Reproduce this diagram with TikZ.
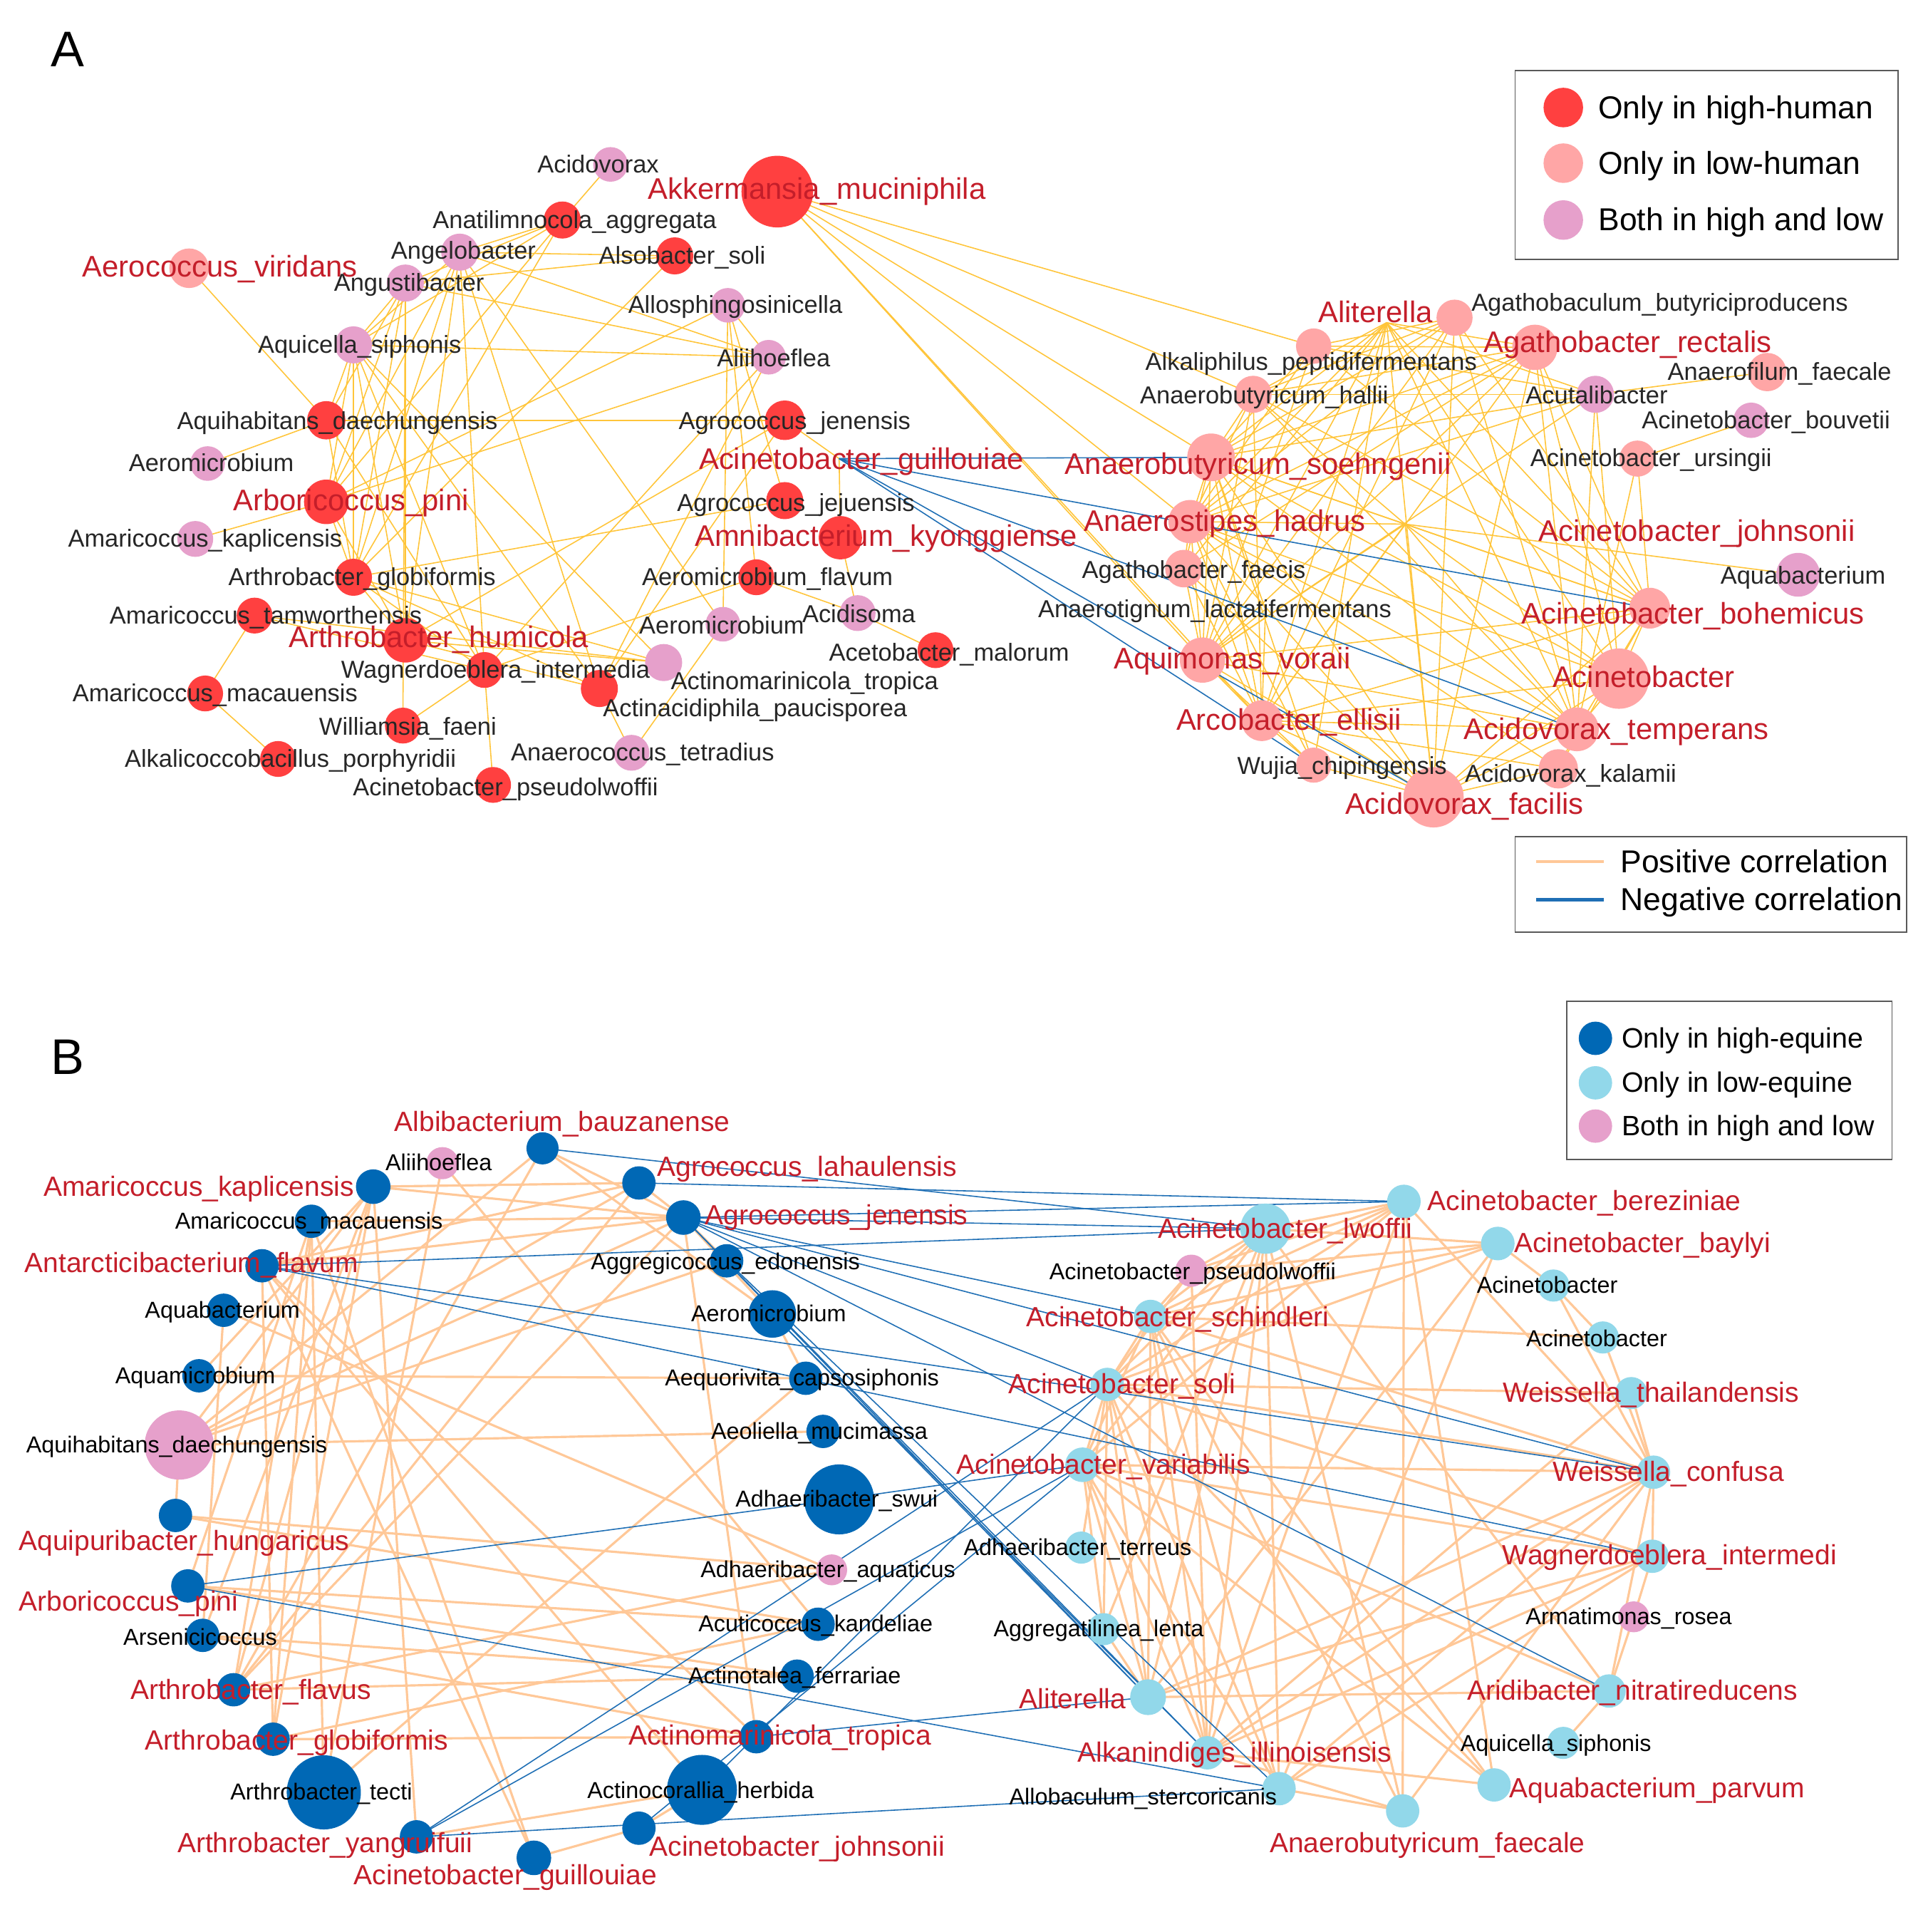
\documentclass[tikz,border=0pt]{standalone}
\usepackage{fontspec}
\setmainfont{Liberation Sans}
\pgfdeclarelayer{bg}
\pgfsetlayers{bg,main}
\definecolor{hhred}{HTML}{FF4040}
\definecolor{lowpink}{HTML}{FFA6A6}
\definecolor{bothpink}{HTML}{E6A0CB}
\definecolor{labred}{HTML}{C41E2A}
\definecolor{labgray}{HTML}{262626}
\definecolor{edgey}{HTML}{FFC53A}
\definecolor{edgeo}{HTML}{FFC898}
\definecolor{edgeb}{HTML}{1F6FB5}
\definecolor{dblue}{HTML}{0068B5}
\definecolor{lblue}{HTML}{92D8EA}
\newcommand{\nd}[5]{\node[circle,inner sep=0pt,minimum size={#5*0.034692cm},fill=#4] (#1) at (#2,#3) {};}
\tikzset{
 labA/.style={font=\fontsize{9.8}{10}\selectfont,text=labgray,inner sep=0pt,text height=6.9pt,text depth=0.4pt},
 labAr/.style={font=\fontsize{11.9}{12}\selectfont,text=labred,inner sep=0pt,text height=8.3pt,text depth=0.5pt},
 labB/.style={font=\fontsize{9.2}{10}\selectfont,text=black,inner sep=0pt,text height=6.4pt,text depth=0.4pt},
 labBr/.style={font=\fontsize{11.1}{12}\selectfont,text=labred,inner sep=0pt,text height=7.8pt,text depth=0.4pt},
 eY/.style={draw=edgey,line width=0.45pt},
 eO/.style={draw=edgeo,line width=0.9pt},
 eBl/.style={draw=edgeb,line width=0.45pt},
 legbox/.style={draw=black!65,line width=0.5pt,fill=white},
 legtxtA/.style={font=\fontsize{12.65}{14}\selectfont,anchor=west,inner sep=0pt,text height=9pt,text depth=0.4pt},
 legtxtB/.style={font=\fontsize{11.2}{13}\selectfont,anchor=west,inner sep=0pt,text height=8pt,text depth=0.4pt},
 panel/.style={font=\fontsize{20}{22}\selectfont,inner sep=0pt}
}
\begin{document}
\begin{tikzpicture}[x=0.017346cm,y=-0.017346cm]
\useasboundingbox (0,0) rectangle (1560,1563);
% ---------------- Panel A nodes ----------------
\nd{a1}{494}{133}{bothpink}{14}
\nd{a2}{629}{155}{hhred}{29}
\nd{a3}{455}{178}{hhred}{15}
\nd{a4}{372}{204}{bothpink}{15}
\nd{a5}{546}{207}{hhred}{15}
\nd{a6}{153}{217}{lowpink}{16}
\nd{a7}{328}{229}{bothpink}{15}
\nd{a8}{589}{247}{bothpink}{14}
\nd{a9}{286}{279}{bothpink}{15}
\nd{a10}{622}{289}{bothpink}{14}
\nd{a11}{264}{340}{hhred}{15.5}
\nd{a12}{635}{340}{hhred}{16}
\nd{a13}{168}{375}{bothpink}{14}
\coordinate (a14) at (679,371);
\nd{a15}{264}{406}{hhred}{18}
\nd{a16}{635}{405}{hhred}{15}
\nd{a17}{158}{436}{bothpink}{14.5}
\nd{a18}{680}{435}{hhred}{17.5}
\nd{a19}{286}{467}{hhred}{15}
\nd{a20}{612}{467}{hhred}{14.5}
\nd{a21}{206}{498}{hhred}{14.5}
\nd{a22}{694}{496}{bothpink}{14.5}
\nd{a23}{585}{505}{bothpink}{14}
\nd{a24}{328}{518}{hhred}{18}
\nd{a25}{757}{526}{hhred}{14.5}
\nd{a26}{392}{542}{hhred}{14.5}
\nd{a27}{537}{536}{bothpink}{15}
\nd{a28}{485}{557}{hhred}{15}
\nd{a29}{166}{561}{hhred}{14.5}
\nd{a30}{326}{587}{hhred}{14.5}
\nd{a31}{511}{609}{bothpink}{14.5}
\nd{a32}{225}{614}{hhred}{14.5}
\nd{a33}{399}{635}{hhred}{14.5}
\coordinate (b1) at (1122,261);
\nd{b2}{1177}{257}{lowpink}{14.6}
\nd{b3}{1063}{280}{lowpink}{14.3}
\nd{b4}{1242}{281}{lowpink}{18.3}
\nd{b5}{1291}{319}{bothpink}{15}
\nd{b6}{1430}{301}{lowpink}{15.5}
\nd{b7}{1014}{319}{lowpink}{15}
\nd{b8}{1417}{340}{bothpink}{14.3}
\nd{b9}{1325}{371}{lowpink}{14.6}
\nd{b10}{980}{370}{lowpink}{19.3}
\nd{b11}{963}{422}{lowpink}{17.5}
\coordinate (b12) at (1137,424);
\nd{b13}{958}{460}{lowpink}{15.2}
\nd{b14}{1455}{465}{bothpink}{17.7}
\coordinate (b15) at (1024,493);
\nd{b16}{1335}{492}{lowpink}{16.5}
\nd{b17}{973}{534}{lowpink}{18.3}
\nd{b18}{1310}{549}{lowpink}{24.4}
\nd{b19}{1021}{583}{lowpink}{16.5}
\nd{b20}{1276}{590}{lowpink}{17.7}
\nd{b21}{1063}{619}{lowpink}{14.2}
\nd{b22}{1261}{622}{lowpink}{15.9}
\nd{b23}{1160}{645}{lowpink}{24.4}
% ---------------- Panel B nodes ----------------
\nd{c1}{439}{929}{dblue}{13}
\nd{c2}{358}{941}{bothpink}{13}
\nd{c3}{302}{960}{dblue}{14}
\nd{c4}{252}{988}{dblue}{13.5}
\nd{c5}{212}{1024}{dblue}{13.5}
\nd{c6}{181}{1060}{dblue}{13.5}
\nd{c7}{161}{1113}{dblue}{13.5}
\nd{c8}{145}{1169}{bothpink}{28}
\nd{c9}{142}{1226}{dblue}{13.5}
\nd{c10}{152}{1283}{dblue}{13.5}
\nd{c11}{164}{1323}{dblue}{13.5}
\nd{c12}{189}{1367}{dblue}{13.5}
\nd{c13}{221}{1407}{dblue}{13.5}
\nd{c14}{262}{1450}{dblue}{30}
\nd{c15}{337}{1486}{dblue}{13.5}
\nd{c16}{432}{1503}{dblue}{14}
\nd{c17}{517}{957}{dblue}{13.5}
\nd{c18}{553}{985}{dblue}{14}
\nd{c19}{588}{1020}{dblue}{13.5}
\nd{c20}{625}{1063}{dblue}{19.2}
\nd{c21}{652}{1115}{dblue}{13.5}
\nd{c22}{666}{1158}{dblue}{13.5}
\nd{c23}{679}{1213}{dblue}{28.3}
\nd{c24}{673}{1270}{bothpink}{12.5}
\nd{c25}{662}{1314}{dblue}{13.5}
\nd{c26}{645}{1356}{dblue}{13.5}
\nd{c27}{612}{1405}{dblue}{13.5}
\nd{c28}{568}{1448}{dblue}{28.3}
\nd{c29}{517}{1479}{dblue}{13.5}
\nd{c30}{1024}{994}{lblue}{20.3}
\nd{c31}{1136}{972}{lblue}{13.6}
\nd{c32}{1212}{1006}{lblue}{13.6}
\nd{c33}{964}{1028}{bothpink}{13}
\nd{c34}{931}{1065}{lblue}{13.5}
\nd{c35}{1257}{1040}{lblue}{13}
\nd{c36}{1297}{1082}{lblue}{13}
\nd{c37}{896}{1120}{lblue}{13.5}
\nd{c38}{1320}{1127}{lblue}{13}
\nd{c39}{876}{1185}{lblue}{14}
\nd{c40}{1338}{1191}{lblue}{13.5}
\nd{c41}{875}{1252}{lblue}{13}
\nd{c42}{1337}{1259}{lblue}{13.5}
\nd{c43}{1322}{1308}{bothpink}{12.5}
\nd{c44}{893}{1318}{lblue}{13}
\nd{c45}{1302}{1368}{lblue}{13.5}
\nd{c46}{929}{1373}{lblue}{14.5}
\nd{c47}{1265}{1410}{lblue}{13}
\nd{c48}{977}{1418}{lblue}{13.5}
\nd{c49}{1209}{1444}{lblue}{13.5}
\nd{c50}{1035}{1447}{lblue}{13.5}
\nd{c51}{1135}{1465}{lblue}{13.5}
% ---------------- edges ----------------
\begin{pgfonlayer}{bg}
\fill[white] (0,0) rectangle (1560,1563);
\foreach \p/\q in {a1/a3,a3/a4,a3/a7,a3/a9,a3/a19,a3/a15,
 a4/a5,a4/a10,a4/a9,a4/a15,a4/a19,a4/a24,a4/a26,a4/a28,a4/a23,
 a7/a9,a7/a15,a7/a19,a7/a11,a7/a10,a7/a5,a7/a24,a7/a30,
 a9/a10,a9/a11,a9/a15,a9/a19,a9/a24,a9/a26,a9/a28,a9/a27,
 a11/a6,a11/a13,a11/a12,a11/a26,a11/a19,
 a15/a17,a15/a19,a15/a10,a15/a8,a15/a24,
 a19/a24,a19/a26,a19/a28,a19/a27,a19/a5,a19/a16,
 a21/a29,a21/a27,a21/a26,a29/a32,
 a26/a30,a26/a33,a26/a20,a26/a10,
 a24/a27,a24/a28,a24/a12,a28/a31,a31/a23,
 a20/a22,a22/a25,a18/a22,a8/a23,a8/a16,a8/a20,a8/a10,
 a10/a28,a12/a14,a12/a28,a14/a18,
 a2/b7,a2/b10,a2/b11,a2/b17,a2/b19,a2/b3,
 b1/b7,b1/b10,b1/b11,b1/b17,b1/b19,b1/b21,b1/b23,b1/b20,b1/b18,b1/b16,b1/b5,b1/b4,b1/b13,
 b2/b10,b2/b11,b2/b17,b2/b23,b2/b20,b2/b16,b2/b7,b2/b3,b2/b19,
 b3/b4,b3/b10,b3/b11,b3/b5,b3/b16,b3/b17,
 b4/b7,b4/b10,b4/b11,b4/b17,b4/b19,b4/b23,b4/b20,b4/b18,b4/b16,b4/b13,
 b5/b6,b5/b10,b5/b11,b5/b7,b5/b17,b5/b20,b5/b18,
 b8/b9,b9/b16,b9/b20,
 b7/b10,b7/b11,b7/b17,b7/b19,b7/b16,b7/b12,b7/b20,
 b10/b11,b10/b13,b10/b17,b10/b19,b10/b21,b10/b23,b10/b12,b10/b16,b10/b18,b10/b20,
 b11/b13,b11/b17,b11/b19,b11/b21,b11/b23,b11/b12,b11/b18,b11/b20,b11/b22,
 b12/b14,b12/b16,b12/b17,b12/b19,b12/b23,b12/b18,b12/b20,
 b13/b17,b13/b19,b13/b23,b15/b17,b15/b19,b15/b10,
 b16/b17,b16/b19,b16/b23,b16/b18,b16/b20,b16/b22,
 b17/b19,b17/b21,b17/b23,b17/b20,b18/b20,b18/b23,b18/b19,
 b19/b21,b19/b23,b19/b20,b19/b22,b20/b22,b20/b23,b22/b23,b21/b23}
 \draw[eY] (\p.center) -- (\q.center);
\foreach \p/\q in {a14/b10,a14/b16,a14/b20,a14/b23,a14/b21}
 \draw[eBl] (\p.center) -- (\q.center);
\foreach \p/\q in {c3/c15,c3/c8,c3/c12,c3/c13,c3/c18,c3/c7,
 c4/c12,c4/c13,c4/c18,c4/c14,c5/c16,c5/c28,c5/c27,c5/c18,
 c6/c24,c6/c11,c7/c21,c8/c22,c8/c17,c8/c18,c8/c1,c8/c9,
 c9/c25,c2/c25,c10/c4,c10/c26,c11/c26,c11/c3,
 c12/c24,c12/c18,c12/c17,c13/c25,c13/c27,c13/c5,
 c14/c21,c14/c2,c15/c28,c16/c29,c16/c4,c1/c18,c1/c12,c1/c20,
 c17/c18,c17/c5,c17/c3,c18/c27,c18/c19,c18/c20,c20/c21,c19/c8,
 c28/c29,c27/c11,c26/c12,c25/c10,c24/c9,
 c30/c33,c30/c34,c30/c37,c30/c39,c30/c44,c30/c46,c30/c48,c30/c50,c30/c32,c30/c31,
 c31/c34,c31/c37,c31/c48,c31/c49,c31/c40,c31/c33,c31/c39,
 c32/c33,c32/c34,c32/c46,c32/c50,c32/c37,
 c35/c32,c35/c40,c36/c34,c36/c40,c36/c35,c38/c40,c38/c48,c38/c37,
 c40/c39,c40/c42,c40/c37,c40/c34,c40/c46,c40/c48,c40/c50,c40/c45,
 c42/c39,c42/c37,c42/c46,c42/c48,c42/c50,c42/c43,
 c43/c45,c45/c46,c45/c47,c45/c39,c45/c30,
 c49/c37,c49/c39,c49/c34,c49/c48,
 c51/c50,c51/c48,c51/c30,c51/c31,c51/c40,c51/c34,
 c46/c37,c46/c39,c46/c34,c46/c44,c48/c37,c48/c39,c48/c34,c48/c33,
 c50/c37,c50/c39,c50/c34,c44/c39,c44/c37,c41/c37,
 c39/c37,c39/c34,c37/c34,c33/c34,c33/c37}
 \draw[eO] (\p.center) -- (\q.center);
\foreach \p/\q in {c1/c30,c17/c31,c18/c30,c18/c31,c18/c34,c18/c40,c18/c45,c18/c46,c18/c48,
 c19/c50,c20/c48,c20/c46,c5/c30,c5/c40,c5/c42,c10/c23,c23/c39,c10/c50,
 c15/c39,c15/c37,c15/c50,c28/c37,c29/c39,c27/c46,c18/c37}
 \draw[eBl] (\p.center) -- (\q.center);
\end{pgfonlayer}
% ---------------- Panel A labels ----------------
\node[labA] (la1) at (484,133) {Acidovorax};
\node[labAr] (la2) at (661,153) {Akkermansia\_muciniphila};
\node[labA] (la3) at (465,178) {Anatilimnocola\_aggregata};
\node[labA] (la4) at (375,203) {Angelobacter};
\node[labA] (la5) at (552,207) {Alsobacter\_soli};
\node[labAr] (la6) at (178,216) {Aerococcus\_viridans};
\node[labA] (la7) at (331,229) {Angustibacter};
\node[labA] (la8) at (595,247) {Allosphingosinicella};
\node[labA] (la9) at (291,279) {Aquicella\_siphonis};
\node[labA] (la10) at (626,290) {Aliihoeflea};
\node[labA] (la11) at (273,341) {Aquihabitans\_daechungensis};
\node[labA] (la12) at (643,341) {Agrococcus\_jenensis};
\node[labA] (la13) at (171,375) {Aeromicrobium};
\node[labAr] (la14) at (697,372) {Acinetobacter\_guillouiae};
\node[labAr] (la15) at (284,405) {Arboricoccus\_pini};
\node[labA] (la16) at (644,407) {Agrococcus\_jejuensis};
\node[labA] (la17) at (166,436) {Amaricoccus\_kaplicensis};
\node[labAr] (la18) at (717,434) {Amnibacterium\_kyonggiense};
\node[labA] (la19) at (293,467) {Arthrobacter\_globiformis};
\node[labA] (la20) at (621,467) {Aeromicrobium\_flavum};
\node[labA] (la21) at (215,498) {Amaricoccus\_tamworthensis};
\node[labA] (la22) at (695,497) {Acidisoma};
\node[labA] (la23) at (584,506) {Aeromicrobium};
\node[labAr] (la24) at (355,516) {Arthrobacter\_humicola};
\node[labA] (la25) at (768,528) {Acetobacter\_malorum};
\node[labA] (la26) at (401,542) {Wagnerdoeblera\_intermedia};
\node[labA] (la27) at (651,551) {Actinomarinicola\_tropica};
\node[labA] (la28) at (611,573) {Actinacidiphila\_paucisporea};
\node[labA] (la29) at (174,561) {Amaricoccus\_macauensis};
\node[labA] (la30) at (330,588) {Williamsia\_faeni};
\node[labA] (la31) at (520,609) {Anaerococcus\_tetradius};
\node[labA] (la32) at (235,614) {Alkalicoccobacillus\_porphyridii};
\node[labA] (la33) at (409,637) {Acinetobacter\_pseudolwoffii};
\node[labAr] (lb1) at (1113,253) {Aliterella};
\node[labA] (lb2) at (1343,245) {Agathobaculum\_butyriciproducens};
\node[labA] (lb3) at (1061,293) {Alkaliphilus\_peptidifermentans};
\node[labAr] (lb4) at (1317,277) {Agathobacter\_rectalis};
\node[labA] (lb5) at (1292,320) {Acutalibacter};
\node[labA] (lb6) at (1440,301) {Anaerofilum\_faecale};
\node[labA] (lb7) at (1023,320) {Anaerobutyricum\_hallii};
\node[labA] (lb8) at (1429,340) {Acinetobacter\_bouvetii};
\node[labA] (lb9) at (1336,371) {Acinetobacter\_ursingii};
\node[labAr] (lb10) at (1018,376) {Anaerobutyricum\_soehngenii};
\node[labAr] (lb11) at (991,422) {Anaerostipes\_hadrus};
\node[labAr] (lb12) at (1373,430) {Acinetobacter\_johnsonii};
\node[labA] (lb13) at (966,461) {Agathobacter\_faecis};
\node[labA] (lb14) at (1459,466) {Aquabacterium};
\node[labA] (lb15) at (983,493) {Anaerotignum\_lactatifermentans};
\node[labAr] (lb16) at (1370,497) {Acinetobacter\_bohemicus};
\node[labAr] (lb17) at (997,533) {Aquimonas\_voraii};
\node[labAr] (lb18) at (1330,548) {Acinetobacter};
\node[labAr] (lb19) at (1043,583) {Arcobacter\_ellisii};
\node[labAr] (lb20) at (1308,590) {Acidovorax\_temperans};
\node[labA] (lb21) at (1086,620) {Wujia\_chipingensis};
\node[labA] (lb22) at (1271,626) {Acidovorax\_kalamii};
\node[labAr] (lb23) at (1185,651) {Acidovorax\_facilis};
% ---------------- Panel B labels ----------------
\node[labBr] (lc1) at (455,908) {Albibacterium\_bauzanense};
\node[labB] (lc2) at (355,941) {Aliihoeflea};
\node[labBr] (lc3) at (161,960) {Amaricoccus\_kaplicensis};
\node[labB] (lc4) at (250,988) {Amaricoccus\_macauensis};
\node[labBr] (lc5) at (155,1022) {Antarcticibacterium\_flavum};
\node[labB] (lc6) at (180,1060) {Aquabacterium};
\node[labB] (lc7) at (158,1113) {Aquamicrobium};
\node[labB] (lc8) at (143,1169) {Aquihabitans\_daechungensis};
\node[labBr] (lc9) at (149,1247) {Aquipuribacter\_hungaricus};
\node[labBr] (lc10) at (104,1296) {Arboricoccus\_pini};
\node[labB] (lc11) at (162,1325) {Arsenicicoccus};
\node[labBr] (lc12) at (203,1367) {Arthrobacter\_flavus};
\node[labBr] (lc13) at (240,1408) {Arthrobacter\_globiformis};
\node[labB] (lc14) at (260,1450) {Arthrobacter\_tecti};
\node[labBr] (lc15) at (263,1491) {Arthrobacter\_yangruifuii};
\node[labBr] (lc16) at (409,1517) {Acinetobacter\_guillouiae};
\node[labBr] (lc17) at (653,944) {Agrococcus\_lahaulensis};
\node[labBr] (lc18) at (677,983) {Agrococcus\_jenensis};
\node[labB] (lc19) at (587,1021) {Aggregicoccus\_edonensis};
\node[labB] (lc20) at (622,1063) {Aeromicrobium};
\node[labB] (lc21) at (649,1115) {Aequorivita\_capsosiphonis};
\node[labB] (lc22) at (663,1158) {Aeoliella\_mucimassa};
\node[labB] (lc23) at (677,1213) {Adhaeribacter\_swui};
\node[labB] (lc24) at (670,1270) {Adhaeribacter\_aquaticus};
\node[labB] (lc25) at (660,1314) {Acuticoccus\_kandeliae};
\node[labB] (lc26) at (643,1356) {Actinotalea\_ferrariae};
\node[labBr] (lc27) at (631,1404) {Actinomarinicola\_tropica};
\node[labB] (lc28) at (567,1449) {Actinocorallia\_herbida};
\node[labBr] (lc29) at (645,1494) {Acinetobacter\_johnsonii};
\node[labBr] (lc30) at (1040,994) {Acinetobacter\_lwoffii};
\node[labBr] (lc31) at (1282,972) {Acinetobacter\_bereziniae};
\node[labBr] (lc32) at (1329,1006) {Acinetobacter\_baylyi};
\node[labB] (lc33) at (965,1029) {Acinetobacter\_pseudolwoffii};
\node[labBr] (lc34) at (953,1066) {Acinetobacter\_schindleri};
\node[labB] (lc35) at (1252,1040) {Acinetobacter};
\node[labB] (lc36) at (1292,1083) {Acinetobacter};
\node[labBr] (lc37) at (908,1120) {Acinetobacter\_soli};
\node[labBr] (lc38) at (1336,1127) {Weissella\_thailandensis};
\node[labBr] (lc39) at (893,1185) {Acinetobacter\_variabilis};
\node[labBr] (lc40) at (1350,1191) {Weissella\_confusa};
\node[labB] (lc41) at (872,1252) {Adhaeribacter\_terreus};
\node[labBr] (lc42) at (1351,1258) {Wagnerdoeblera\_intermedi};
\node[labB] (lc43) at (1318,1308) {Armatimonas\_rosea};
\node[labB] (lc44) at (889,1318) {Aggregatilinea\_lenta};
\node[labBr] (lc45) at (1321,1368) {Aridibacter\_nitratireducens};
\node[labBr] (lc46) at (868,1375) {Aliterella};
\node[labB] (lc47) at (1259,1411) {Aquicella\_siphonis};
\node[labBr] (lc48) at (999,1418) {Alkanindiges\_illinoisensis};
\node[labBr] (lc49) at (1341,1447) {Aquabacterium\_parvum};
\node[labB] (lc50) at (925,1454) {Allobaculum\_stercoricanis};
\node[labBr] (lc51) at (1155,1491) {Anaerobutyricum\_faecale};
% ---------------- panel letters ----------------
\node[panel] (pA) at (55,40) {A};
\node[panel] (pB) at (55,855) {B};
% ---------------- legends ----------------
\node[legbox,minimum width={310*0.017346cm},minimum height={153*0.017346cm},inner sep=0pt] (legA) at (1381,133.5) {};
\nd{lgA1}{1265}{87}{hhred}{16}
\nd{lgA2}{1265}{132}{lowpink}{16}
\nd{lgA3}{1265}{178}{bothpink}{16}
\node[legtxtA] (tgA1) at (1293,87) {Only in high-human};
\node[legtxtA] (tgA2) at (1293,132) {Only in low-human};
\node[legtxtA] (tgA3) at (1293,178) {Both in high and low};
\node[legbox,minimum width={317*0.017346cm},minimum height={77*0.017346cm},inner sep=0pt] (legE) at (1384.5,715.5) {};
\coordinate (eL1) at (1243,697); \coordinate (eR1) at (1298,697);
\coordinate (eL2) at (1243,728); \coordinate (eR2) at (1298,728);
\draw[draw=edgeo,line width=1.3pt] (eL1) -- (eR1);
\draw[draw=edgeb,line width=1.3pt] (eL2) -- (eR2);
\node[legtxtA] (tgE1) at (1311,697) {Positive correlation};
\node[legtxtA] (tgE2) at (1311,728) {Negative correlation};
\node[legbox,minimum width={263*0.017346cm},minimum height={128*0.017346cm},inner sep=0pt] (legB) at (1399.5,874) {};
\nd{lgB1}{1291}{840}{dblue}{13.5}
\nd{lgB2}{1291}{876}{lblue}{13.5}
\nd{lgB3}{1291}{911}{bothpink}{13.5}
\node[legtxtB] (tgB1) at (1312,840) {Only in high-equine};
\node[legtxtB] (tgB2) at (1312,876) {Only in low-equine};
\node[legtxtB] (tgB3) at (1312,911) {Both in high and low};
\end{tikzpicture}
\end{document}
